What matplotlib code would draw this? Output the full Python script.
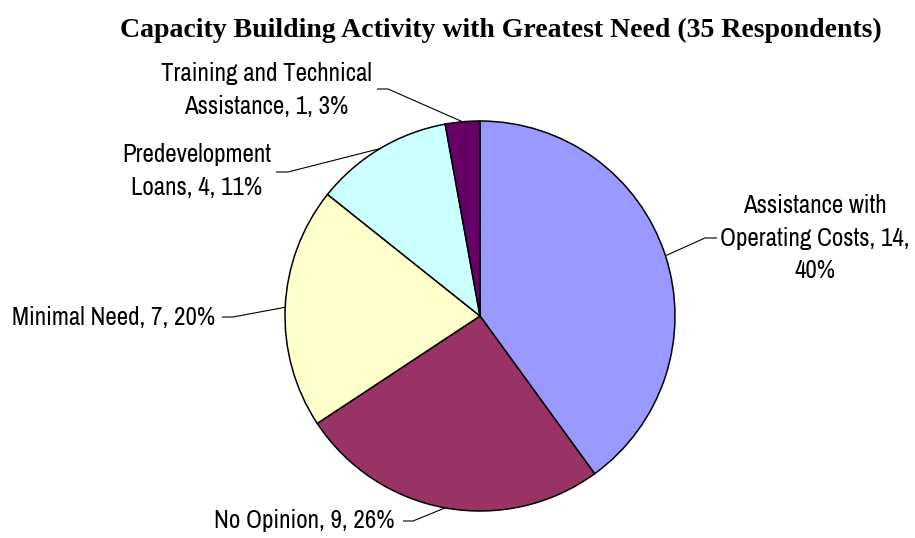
import numpy as np
import matplotlib.pyplot as plt

title = 'Capacity Building Activity with Greatest Need (35 Respondents)'
categories = ['Assistance with Operating Costs', 'No Opinion', 'Minimal Need',
              'Predevelopment Loans', 'Training and Technical Assistance']
counts = [14, 9, 7, 4, 1]
labels = ['Assistance with\nOperating Costs, 14,\n40%',
          'No Opinion, 9, 26%',
          'Minimal Need, 7, 20%',
          'Predevelopment\nLoans, 4, 11%',
          'Training and Technical\nAssistance, 1, 3%']
colors = ['#9999FF', '#993366', '#FFFFCC', '#CCFFFF', '#660066']

W, H = 915, 538
# layout in pixel coords (y down): text anchor, alignment, elbow and hook of leader
text_pos = [(815, 238), (395, 520), (215, 317), (197, 171), (266, 90)]
text_ha = ['center', 'right', 'right', 'center', 'center']
elbow = [(705, 238), (413, 521), (233, 317), (288, 172), (388, 89)]
hook = [(717, 238), (403, 521), (222, 317), (276, 172), (377, 89)]

label_font = ['Archivo Narrow', 'PT Sans Narrow', 'Liberation Sans', 'DejaVu Sans']

fig = plt.figure(figsize=(W / 100, H / 100), dpi=100)
ax = fig.add_axes([0, 0, 1, 1])
cx, cy, r = 480, H - 316, 195
wedges, _ = ax.pie(counts, colors=colors, startangle=90, counterclock=False,
                   center=(cx, cy), radius=r, frame=True,
                   wedgeprops=dict(edgecolor='black', linewidth=1.1))
ax.set_xlim(0, W)
ax.set_ylim(0, H)
ax.set_aspect('equal')
ax.axis('off')

for w, lab, (tx, ty), ha, (ex, ey), (hx, hy) in zip(
        wedges, labels, text_pos, text_ha, elbow, hook):
    mid = np.deg2rad((w.theta1 + w.theta2) / 2)
    px, py = cx + r * np.cos(mid), cy + r * np.sin(mid)
    ax.plot([px, ex, hx], [py, H - ey, H - hy], color='black', lw=0.8,
            solid_capstyle='butt')
    ax.text(tx, H - ty, lab, ha=ha, va='center', multialignment='center',
            fontsize=18, family=label_font, color='black', linespacing=1.5)

fig.text(501 / W, 1 - 30 / H, title, ha='center', va='center',
         fontsize=20, fontweight='bold', family=['Liberation Serif', 'DejaVu Serif'])

fig.savefig('out.png', dpi=100)
